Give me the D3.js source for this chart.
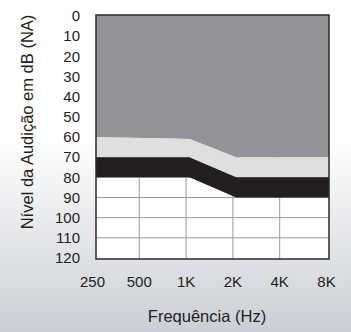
<!DOCTYPE html>
<meta charset="utf-8">
<style>
  body { margin: 0; }
  svg { display: block; }
  text { font-family: "Liberation Sans", Arial, sans-serif; fill: #231f20; }
</style>
<div id="chart"></div>
<script src="https://d3js.org/d3.v7.min.js"></script>
<script>

// audiogram axes
var freqs = [250, 500, 1000, 2000, 4000, 8000]
var freqLabels = ["250", "500", "1K", "2K", "4K", "8K"]
var dbTicks = [0, 10, 20, 30, 40, 50, 60, 70, 80, 90, 100, 110, 120]

// band boundaries (dB) at the break frequencies
var bandFreqs = [250, 1050, 2100, 8000]
var darkBottom = [60, 61, 70, 70]
var lightBottom = [70, 70, 80, 80]
var blackBottom = [80, 80, 90, 90]

var width = 351, height = 332
var frame = {left: 96, right: 329, top: 15, bottom: 259}

var svg = d3.select("#chart").append("svg")
  .attr("width", width)
  .attr("height", height)

var grad = svg.append("defs").append("linearGradient")
  .attr("id", "bg").attr("x1", 0).attr("y1", 0).attr("x2", 0).attr("y2", 1)
grad.append("stop").attr("offset", "0%").attr("stop-color", "#ffffff")
grad.append("stop").attr("offset", "42%").attr("stop-color", "#ffffff")
grad.append("stop").attr("offset", "100%").attr("stop-color", "#cbcfd5")

svg.append("rect").attr("width", width).attr("height", height).attr("fill", "url(#bg)")

var x = d3.scaleLog().base(2).domain([250, 8000]).range([92.5, 326.5])
var y = d3.scaleLinear().domain([0, 120]).range([16, 258])

// white plot area
svg.append("rect")
  .attr("x", frame.left).attr("y", frame.top)
  .attr("width", frame.right - frame.left).attr("height", frame.bottom - frame.top)
  .attr("fill", "#fff")

// grid
svg.append("g").selectAll("line")
  .data(freqs.slice(1, -1))
  .join("line")
  .attr("x1", d => x(d)).attr("x2", d => x(d))
  .attr("y1", frame.top).attr("y2", frame.bottom)
  .attr("stroke", "#9a9a9a").attr("stroke-width", 1)

svg.append("g").selectAll("line")
  .data(dbTicks.filter(d => d > 0 && d < 120))
  .join("line")
  .attr("x1", frame.left).attr("x2", frame.right)
  .attr("y1", d => y(d)).attr("y2", d => y(d))
  .attr("stroke", "#9a9a9a").attr("stroke-width", 1)

// bands
function px(f) {
  if (f === 250) return frame.left
  if (f === 8000) return frame.right
  return x(f)
}

function band(top, bottom, color) {
  var pts = []
  bandFreqs.forEach(function(f, i) { pts.push([px(f), top ? y(top[i]) : frame.top]) })
  for (var i = bandFreqs.length - 1; i >= 0; i--) pts.push([px(bandFreqs[i]), y(bottom[i])])
  svg.append("path")
    .attr("d", d3.line()(pts) + "Z")
    .attr("fill", color)
}

band(null, darkBottom, "#949398")
band(darkBottom, lightBottom, "#dfdfde")
band(lightBottom, blackBottom, "#231f20")

// frame
svg.append("rect")
  .attr("x", frame.left).attr("y", frame.top)
  .attr("width", frame.right - frame.left).attr("height", frame.bottom - frame.top)
  .attr("fill", "none").attr("stroke", "#2a2a2a").attr("stroke-width", 1.5)

// y labels
svg.append("g").selectAll("text")
  .data(dbTicks)
  .join("text")
  .attr("x", 80).attr("y", d => y(d))
  .attr("dy", "0.35em")
  .attr("text-anchor", "end")
  .style("font-size", "15px")
  .text(d => d)

// x labels
svg.append("g").selectAll("text")
  .data(freqs)
  .join("text")
  .attr("x", d => x(d)).attr("y", 287)
  .attr("text-anchor", "middle")
  .style("font-size", "15px")
  .text((d, i) => freqLabels[i])

svg.append("text")
  .attr("x", 207).attr("y", 322)
  .attr("text-anchor", "middle")
  .style("font-size", "16.5px")
  .text("Frequência (Hz)")

svg.append("text")
  .attr("transform", "translate(33,122) rotate(-90)")
  .attr("text-anchor", "middle")
  .style("font-size", "16.5px")
  .text("Nível da Audição em dB (NA)")

</script>
